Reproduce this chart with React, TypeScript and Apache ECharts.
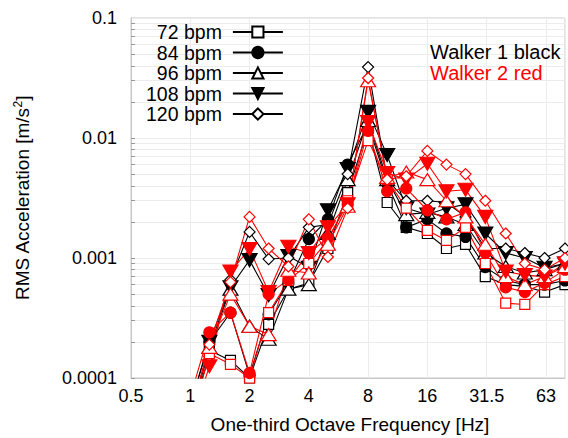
import React, { useEffect, useRef } from "react";
import * as echarts from "echarts";

const freqs = [1, 1.25, 1.6, 2, 2.5, 3.15, 4, 5, 6.3, 8, 10, 12.5, 16, 20, 25, 31.5, 40, 50, 63, 80];

const xTickLabels = ["0.5", "1", "2", "4", "8", "16", "31.5", "63"];
const yTickLabels = ["0.0001", "0.001", "0.01", "0.1"];
const yMinorTicks = [
  0.0001, 0.0002, 0.0003, 0.0004, 0.0005, 0.0006, 0.0007, 0.0008, 0.0009,
  0.001, 0.002, 0.003, 0.004, 0.005, 0.006, 0.007, 0.008, 0.009,
  0.01, 0.02, 0.03, 0.04, 0.05, 0.06, 0.07, 0.08, 0.09, 0.1,
];

const bpmNames = ["72 bpm", "84 bpm", "96 bpm", "108 bpm", "120 bpm"];
const walkerNotes = ["Walker 1 black", "Walker 2 red"];

// Walker 1 (black)
const w1_72 = [0.00005, 0.00017, 0.00014, 0.0001, 0.00028, 0.00055, 0.00062, 0.0012, 0.0035, 0.012, 0.0029, 0.0018, 0.0016, 0.0012, 0.0013, 0.0007, 0.0006, 0.00058, 0.00052, 0.0006];
const w1_84 = [0.00006, 0.0002, 0.00035, 0.000105, 0.00034, 0.00062, 0.00144, 0.0021, 0.006, 0.013, 0.0042, 0.0018, 0.0021, 0.0016, 0.0015, 0.00084, 0.00065, 0.0006, 0.0006, 0.00065];
const w1_96 = [0.00005, 0.00018, 0.00055, 0.00027, 0.00021, 0.00055, 0.0006, 0.0016, 0.0045, 0.014, 0.0045, 0.0023, 0.0024, 0.0022, 0.0019, 0.0011, 0.00085, 0.00075, 0.0008, 0.0009];
const w1_108 = [0.00006, 0.0002, 0.00057, 0.00096, 0.00049, 0.00104, 0.00083, 0.0025, 0.0055, 0.0165, 0.0072, 0.0026, 0.0023, 0.0026, 0.0028, 0.0016, 0.0011, 0.001, 0.00083, 0.0009];
const w1_120 = [0.00005, 0.00015, 0.00066, 0.00165, 0.00098, 0.001, 0.0018, 0.0019, 0.005, 0.039, 0.0045, 0.003, 0.003, 0.0029, 0.0022, 0.0012, 0.0012, 0.0011, 0.001, 0.0012];

// Walker 2 (red)
const w2_72 = [0.00004, 0.00016, 0.00013, 0.0001, 0.00035, 0.00065, 0.0009, 0.0014, 0.003, 0.0095, 0.0045, 0.0026, 0.0017, 0.0014, 0.0018, 0.0009, 0.00042, 0.00041, 0.0006, 0.0007];
const w2_84 = [0.00007, 0.00024, 0.00035, 0.00011, 0.0005, 0.00066, 0.0011, 0.00147, 0.0028, 0.0115, 0.0036, 0.0038, 0.0025, 0.0021, 0.0024, 0.0011, 0.00057, 0.00052, 0.00062, 0.0008];
const w2_96 = [0.00005, 0.00018, 0.0005, 0.00027, 0.00023, 0.00079, 0.00075, 0.0013, 0.0027, 0.03, 0.0047, 0.0052, 0.0045, 0.003, 0.0022, 0.0013, 0.0007, 0.0006, 0.0007, 0.00085];
const w2_108 = [0.00004, 0.000125, 0.00077, 0.00119, 0.00052, 0.00124, 0.0011, 0.0018, 0.0028, 0.0136, 0.0051, 0.0045, 0.0061, 0.0036, 0.0037, 0.0022, 0.00077, 0.00072, 0.0007, 0.0009];
const w2_120 = [0.00005, 0.00019, 0.00063, 0.0022, 0.0012, 0.00085, 0.0021, 0.00102, 0.0026, 0.0316, 0.0045, 0.0048, 0.0078, 0.006, 0.005, 0.003, 0.0016, 0.0009, 0.0008, 0.001];

const walker1 = [w1_72, w1_84, w1_96, w1_108, w1_120];
const walker2 = [w2_72, w2_84, w2_96, w2_108, w2_120];

const FONT = "Arial, Liberation Sans, sans-serif";

const markers = [
  { symbol: "rect", size: 10, filled: false, rotate: 0 },
  { symbol: "circle", size: 11, filled: true, rotate: 0 },
  { symbol: "triangle", size: [15, 12], filled: false, rotate: 0 },
  { symbol: "triangle", size: [15, 13], filled: true, rotate: 180 },
  { symbol: "diamond", size: 11, filled: false, rotate: 0 },
];

function makeSeries(values: number[], idx: number, color: string, name: string) {
  const m = markers[idx];
  return {
    type: "line",
    name,
    data: freqs.map((f, i) => [f, values[i]]),
    symbol: m.symbol,
    symbolSize: m.size,
    symbolRotate: m.rotate,
    showAllSymbol: true,
    clip: true,
    lineStyle: { color, width: 1.1 },
    itemStyle: {
      color: m.filled ? color : "#ffffff",
      borderColor: color,
      borderWidth: 1.2,
    },
    emphasis: { disabled: true },
    z: 2,
  };
}

export default function App() {
  const ref = useRef<HTMLDivElement>(null);
  useEffect(() => {
    if (!ref.current) return;
    const chart = echarts.init(ref.current, null, { renderer: "svg" });
    const series: any[] = [];
    walker1.forEach((v, i) => series.push(makeSeries(v, i, "#000000", bpmNames[i])));
    walker2.forEach((v, i) => series.push(makeSeries(v, i, "#ff0000", bpmNames[i] + " (Walker 2)")));

    chart.setOption({
      animation: false,
      backgroundColor: "#ffffff",
      textStyle: { fontFamily: FONT },
      grid: {
        left: 131,
        top: 18,
        right: 0,
        bottom: 60,
        show: true,
        borderColor: "#c8c8c8",
        borderWidth: 1,
        backgroundColor: "transparent",
      },
      legend: {
        data: bpmNames,
        orient: "vertical",
        align: "right",
        left: 141,
        top: 17,
        itemWidth: 50,
        itemHeight: 14,
        itemGap: 0.5,
        textStyle: { fontSize: 19.5, color: "#000", fontFamily: FONT, padding: [0, 6, 0, 0] },
        selectedMode: false,
      },
      title: {
        text: "{a|" + walkerNotes[0] + "}\n{b|" + walkerNotes[1] + "}",
        left: 425,
        top: 36.5,
        textStyle: {
          fontFamily: FONT,
          fontWeight: "normal",
          rich: {
            a: { fontSize: 20, color: "#000000", lineHeight: 21, fontFamily: FONT, fontWeight: "normal" },
            b: { fontSize: 20, color: "#ff0000", lineHeight: 21, fontFamily: FONT, fontWeight: "normal" },
          },
        },
      },
      xAxis: {
        type: "log",
        logBase: 2,
        min: 0.5,
        max: 80,
        axisLine: { show: true, lineStyle: { color: "#c8c8c8" } },
        axisTick: { show: false },
        splitLine: { show: true, lineStyle: { color: "#ececec", width: 1 } },
        axisLabel: {
          color: "#000",
          fontSize: 18,
          fontFamily: FONT,
          margin: 9,
          showMinLabel: true,
          formatter: (v: number) => {
            const l = Math.log2(v / 0.5);
            const k = Math.round(l);
            if (Math.abs(l - k) > 0.01) return "";
            return xTickLabels[k] ?? "";
          },
        },
      },
      yAxis: {
        type: "log",
        logBase: 10,
        min: 0.0001,
        max: 0.1,
        axisLine: { show: true, lineStyle: { color: "#c8c8c8" } },
        axisTick: {
          show: true,
          inside: true,
          length: 4,
          customValues: yMinorTicks,
          lineStyle: { color: "#999" },
        },
        splitLine: { show: true, lineStyle: { color: "#ececec", width: 1 } },
        axisLabel: {
          color: "#000",
          fontSize: 18,
          fontFamily: FONT,
          margin: 14,
          formatter: (v: number) => {
            const k = Math.round(Math.log10(v)) + 4;
            return yTickLabels[k] ?? "";
          },
        },
      },
      graphic: [
        {
          type: "text",
          x: 22,
          y: 198,
          rotation: Math.PI / 2,
          style: {
            text: "RMS Acceleration [m/s{sup|2}]",
            fontSize: 19,
            fontFamily: FONT,
            fill: "#000",
            align: "center",
            verticalAlign: "middle",
            rich: {
              sup: { fontSize: 12, verticalAlign: "top", fill: "#000", fontFamily: FONT, padding: [0, 0, 8, 0] },
            },
          },
        },
        {
          type: "text",
          x: 350,
          y: 424,
          style: {
            text: "One-third Octave Frequency [Hz]",
            fontSize: 19,
            fontFamily: FONT,
            fill: "#000",
            align: "center",
            verticalAlign: "middle",
          },
        },
      ],
      series,
    });
    return () => chart.dispose();
  }, []);
  return (
    <div
      ref={ref}
      style={{ position: "fixed", left: 0, top: 0, width: 568, height: 438, background: "#fff" }}
    />
  );
}
